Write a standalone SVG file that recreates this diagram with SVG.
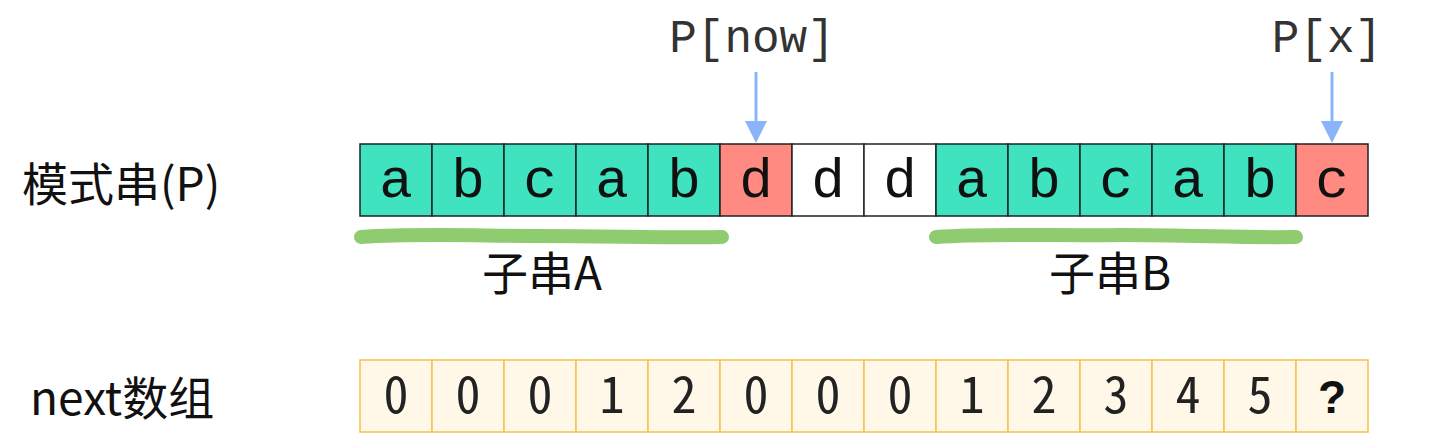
<svg xmlns="http://www.w3.org/2000/svg" width="1440" height="433" viewBox="0 0 1440 433">
<defs>
<style>
.cell{stroke:#222;stroke-width:1.5}
.t{fill:#3fe3bf}.r{fill:#ff8a82}.w{fill:#fff}
.n{fill:#fff8e8;stroke:#f3c24f;stroke-width:1.5}
.ch{font-family:"Liberation Mono","Courier New",monospace;font-size:56px;fill:#111;text-anchor:middle}
.ptr{font-family:"Liberation Mono","Courier New",monospace;font-size:46px;fill:#333;text-anchor:middle}
.num{font-family:"Noto Sans Mono CJK SC","DejaVu Sans Mono",monospace;font-size:50px;fill:#222;text-anchor:middle}
.lbl{font-family:"Noto Sans CJK SC","Noto Sans",sans-serif;font-size:46px;fill:#111}
.hl{fill:none;stroke:#8fcb6f;stroke-width:14;stroke-linecap:round}
.arr{stroke:#8ab4f8;stroke-width:3;fill:none}
</style>
</defs>
<g id="label-p"><text class="lbl" x="22" y="201" font-size="48">模式串(P)</text></g>
<g id="label-next"><text class="lbl" x="30" y="415" font-size="48">next数组</text></g>
<g id="pattern">
<rect class="cell t" x="360" y="144" width="72" height="72"/><text class="ch" x="396" y="197">a</text>
<rect class="cell t" x="432" y="144" width="72" height="72"/><text class="ch" x="468" y="197">b</text>
<rect class="cell t" x="504" y="144" width="72" height="72"/><text class="ch" x="540" y="197">c</text>
<rect class="cell t" x="576" y="144" width="72" height="72"/><text class="ch" x="612" y="197">a</text>
<rect class="cell t" x="648" y="144" width="72" height="72"/><text class="ch" x="684" y="197">b</text>
<rect class="cell r" x="720" y="144" width="72" height="72"/><text class="ch" x="756" y="197">d</text>
<rect class="cell w" x="792" y="144" width="72" height="72"/><text class="ch" x="828" y="197">d</text>
<rect class="cell w" x="864" y="144" width="72" height="72"/><text class="ch" x="900" y="197">d</text>
<rect class="cell t" x="936" y="144" width="72" height="72"/><text class="ch" x="972" y="197">a</text>
<rect class="cell t" x="1008" y="144" width="72" height="72"/><text class="ch" x="1044" y="197">b</text>
<rect class="cell t" x="1080" y="144" width="72" height="72"/><text class="ch" x="1116" y="197">c</text>
<rect class="cell t" x="1152" y="144" width="72" height="72"/><text class="ch" x="1188" y="197">a</text>
<rect class="cell t" x="1224" y="144" width="72" height="72"/><text class="ch" x="1260" y="197">b</text>
<rect class="cell r" x="1296" y="144" width="72" height="72"/><text class="ch" x="1332" y="197">c</text>
</g>
<g id="next">
<rect class="n" x="360" y="360" width="72" height="72"/><text class="num" x="396" y="413">0</text>
<rect class="n" x="432" y="360" width="72" height="72"/><text class="num" x="468" y="413">0</text>
<rect class="n" x="504" y="360" width="72" height="72"/><text class="num" x="540" y="413">0</text>
<rect class="n" x="576" y="360" width="72" height="72"/><text class="num" x="612" y="413">1</text>
<rect class="n" x="648" y="360" width="72" height="72"/><text class="num" x="684" y="413">2</text>
<rect class="n" x="720" y="360" width="72" height="72"/><text class="num" x="756" y="413">0</text>
<rect class="n" x="792" y="360" width="72" height="72"/><text class="num" x="828" y="413">0</text>
<rect class="n" x="864" y="360" width="72" height="72"/><text class="num" x="900" y="413">0</text>
<rect class="n" x="936" y="360" width="72" height="72"/><text class="num" x="972" y="413">1</text>
<rect class="n" x="1008" y="360" width="72" height="72"/><text class="num" x="1044" y="413">2</text>
<rect class="n" x="1080" y="360" width="72" height="72"/><text class="num" x="1116" y="413">3</text>
<rect class="n" x="1152" y="360" width="72" height="72"/><text class="num" x="1188" y="413">4</text>
<rect class="n" x="1224" y="360" width="72" height="72"/><text class="num" x="1260" y="413">5</text>
<rect class="n" x="1296" y="360" width="72" height="72"/><text x="1332" y="413" font-family="Liberation Sans, Arial, sans-serif" font-weight="bold" font-size="46" fill="#111" text-anchor="middle">?</text>
</g>
<g id="substring-a">
<path class="hl" d="M361,237 C420,233 480,236 540,236 C610,236 670,238 722,237"/>
<text class="lbl" x="542" y="290" text-anchor="middle">子串A</text>
</g>
<g id="substring-b">
<path class="hl" d="M936,237 C990,233 1060,236 1120,235 C1190,235 1250,238 1296,237"/>
<text class="lbl" x="1110" y="290" text-anchor="middle">子串B</text>
</g>
<g id="ptr-now"><text class="ptr" x="752" y="52">P[now]</text></g>
<g id="ptr-x"><text class="ptr" x="1327" y="52">P[x]</text></g>
<g id="connectors">
<line class="arr" x1="756" y1="72" x2="756" y2="126"/>
<polygon points="745,121 767,121 756,143" fill="#8ab4f8"/>
<line class="arr" x1="1332" y1="72" x2="1332" y2="126"/>
<polygon points="1321,121 1343,121 1332,143" fill="#8ab4f8"/>
</g>
</svg>
